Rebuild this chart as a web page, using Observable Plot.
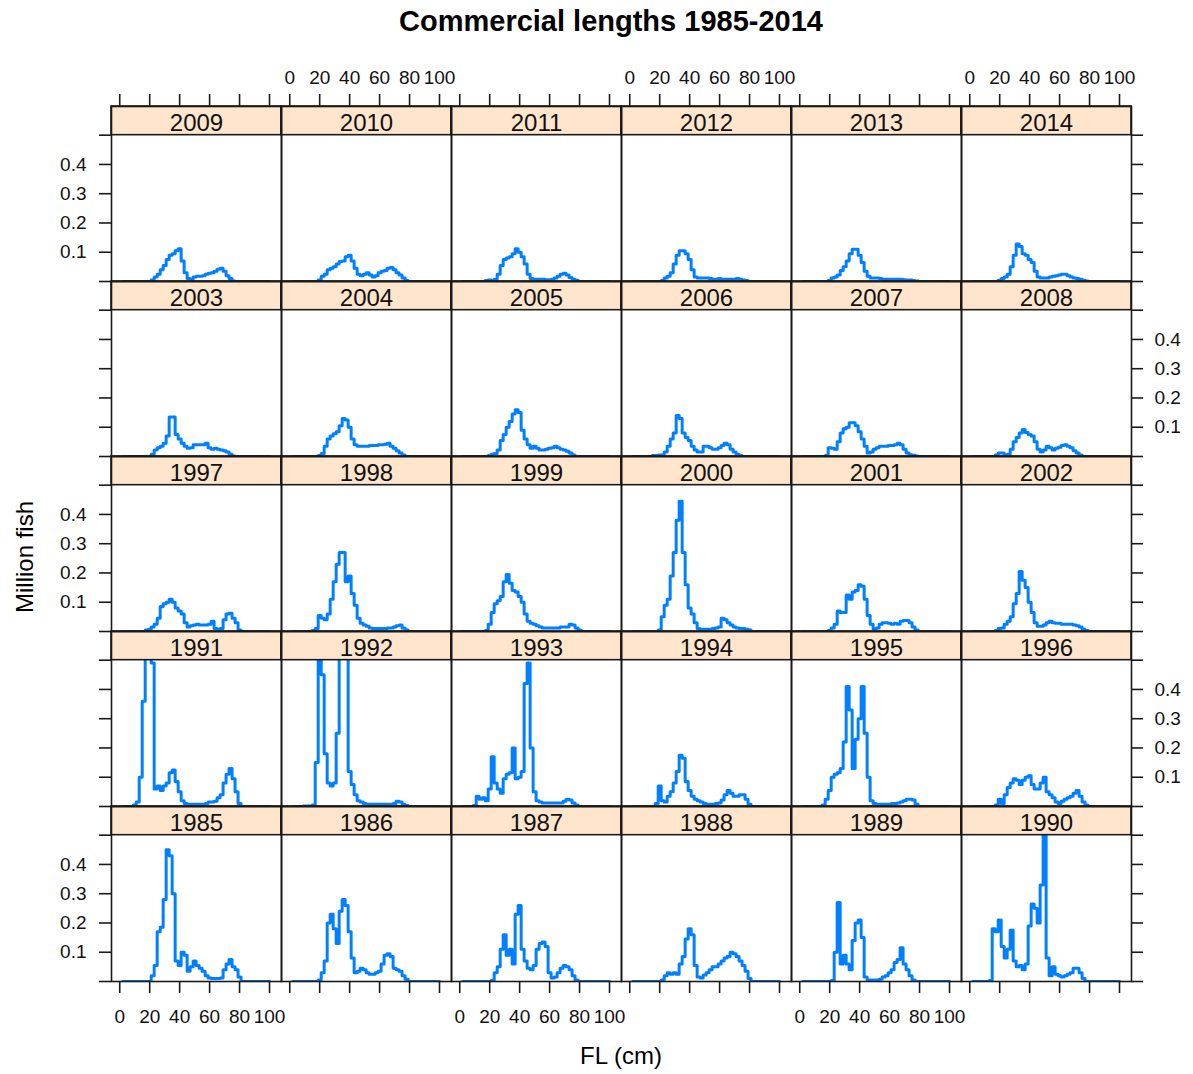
<!DOCTYPE html>
<html>
<head>
<meta charset="utf-8">
<script src="https://cdn.jsdelivr.net/npm/d3@7"></script>
<script src="https://cdn.jsdelivr.net/npm/@observablehq/plot@0.6"></script>
<style>
  body { margin: 0; background: #fff; font-family: "Liberation Sans", Arial, sans-serif; }
  #wrap { position: relative; width: 1193px; height: 1074px; overflow: hidden; background: #fff; }
  #wrap svg { position: absolute; left: 0; top: 0; }
  #title { position: absolute; left: 0; top: 7px; width: 1222px; text-align: center; font-weight: bold; font-size: 29px; line-height: 29px; color: #000; }
  #xlab { position: absolute; left: 0; top: 1044px; width: 1242px; text-align: center; font-size: 24px; line-height: 24px; color: #000; }
  #ylab { position: absolute; left: -75px; top: 545px; width: 200px; text-align: center; font-size: 24px; line-height: 24px; transform: rotate(-90deg); color: #000; }
</style>
</head>
<body>
<div id="wrap">
  <div id="title">Commercial lengths 1985-2014</div>
  <div id="xlab">FL (cm)</div>
  <div id="ylab">Million fish</div>
</div>
<script>
// ---- data (values in thousand fish per 2-cm length bin) ----
const years = [1985,1986,1987,1988,1989,1990,1991,1992,1993,1994,1995,1996,1997,1998,1999,2000,2001,2002,2003,2004,2005,2006,2007,2008,2009,2010,2011,2012,2013,2014];
const lengthBins = [2,4,6,8,10,12,14,16,18,20,22,24,26,28,30,32,34,36,38,40,42,44,46,48,50,52,54,56,58,60,62,64,66,68,70,72,74,76,78,80,82,84,86,88,90,92,94,96,98,100];
const xTicks = [0,20,40,60,80,100];
const yTicks = [0,0.1,0.2,0.3,0.4,0.5];
const yTickLabels = [0.1,0.2,0.3,0.4];

const v1985 = [0,0,0,0,0,0,0,0,0,0, 20,55,170,185,280,450,430,300,70,55, 100,90,35,50,70,55,45,35,20,12, 10,10,10,12,40,60,75,50,40,15, 0,0,0,0,0,0,0,0,0,0];
const v1986 = [0,0,0,0,0,0,0,0,0, 5,30,70,200,230,180,130,240,280,260, 170,80,30,35,45,40,30,25,25,30, 35,60,90,95,85,45,40,35,20,8, 0,0,0,0,0,0,0,0,0,0,0];
const v1987 = [0,0,0,0,0,0,0,0,0,0, 3,30,50,110,160,90,110,60,230,260, 110,70,45,40,55,110,130,135,120,30, 12,15,30,45,55,50,40,20,5, 0,0,0,0,0,0,0,0,0,0,0];
const v1988 = [0,0,0,0,0,0,0,0,0,0, 5,20,30,25,30,25,60,85,145,180, 160,55,15,12,22,30,40,50,50,60, 70,80,85,100,95,85,70,55,35,10, 0,0,0,0,0,0,0,0,0,0];
const v1989 = [0,0,0,0,0,0,0,0,0,0, 3,100,270,60,90,60,40,140,200,210, 150,15,5,5,5,5,8,15,20,30, 40,65,75,115,60,40,20,5, 0,0,0,0,0,0,0,0,0,0,0,0];
const v1990 = [0,0,0,0,0,0, 3,180,170,210,120,80,110,175,70,50, 55,40,60,190,265,250,200,330,600,80, 20,50,25,20,15,20,25,30,45,45, 30,10, 0,0,0,0,0,0,0,0,0,0,0,0];
const v1991 = [0,0,0,0, 5,15,100,360,700,700,490,60,70,55, 70,80,115,125,85,50,20,10,8,8, 8,8,8,8,10,15,15,18,30,40, 80,110,130,95,50,10, 0,0,0,0,0,0,0,0,0,0];
const v1992 = [0,0,0,0, 2,2,2,5,150,700,450,180,80,70, 80,250,700,700,700,120,75,40,20,15, 10,8,8,8,8,8,8,8,8,8, 10,18,15,8,3, 0,0,0,0,0,0,0,0,0,0,0];
const v1993 = [0,0,0,0, 3,35,25,30,20,60,170,80,60,45, 95,110,115,200,95,100,120,420,490,200, 50,20,15,12,12,12,12,12,12,12, 18,25,22,12,5, 0,0,0,0,0,0,0,0,0,0,0];
const v1994 = [0,0,0,0,0,0,0,0, 10,70,20,15,35,50,80,120,175,165, 85,55,35,25,20,15,10,8,8,8, 10,12,22,40,55,45,35,35,40,40, 25,8, 0,0,0,0,0,0,0,0,0,0];
const v1995 = [0,0,0,0,0,0,0, 5,25,55,100,110,115,130,220,410,330, 130,230,300,410,250,100,20,10,8,8, 8,8,8,10,10,12,15,20,25,25, 22,8, 0,0,0,0,0,0,0,0,0,0,0];
const v1996 = [0,0,0,0,0,0,0,0, 5,25,10,40,65,80,95,90,75,90, 100,105,75,60,60,80,100,50,40,30, 15,10,18,25,30,35,45,55,35,15, 5, 0,0,0,0,0,0,0,0,0,0,0];
const v1997 = [0,0,0,0,0,0,0,0, 5,8,15,25,45,85,95,100,110,100, 80,70,60,30,15,20,22,25,22,22, 22,25,35,10,8,10,40,60,62,45, 30,5, 0,0,0,0,0,0,0,0,0,0];
const v1998 = [0,0,0,0,0,0,0, 3,10,55,45,40,60,110,170,230,270, 270,170,190,130,90,45,28,22,18,12, 10,10,10,10,10,12,12,15,20,22, 12,5, 0,0,0,0,0,0,0,0,0,0,0];
const v1999 = [0,0,0,0,0,0,0,0, 3,25,65,95,105,120,170,195,165,140, 135,120,100,60,35,28,25,20,15,12, 12,12,12,12,12,15,15,15,25,22, 12,5, 0,0,0,0,0,0,0,0,0,0];
const v2000 = [0,0,0,0,0,0,0,0,0, 5,50,90,110,190,270,380,445,270,160, 80,60,30,10,8,8,8,8,10,12, 15,45,40,30,22,15,12,10,10,8, 5, 0,0,0,0,0,0,0,0,0,0];
const v2001 = [0,0,0,0,0,0,0,0,0, 3,12,25,70,65,65,125,110,135,140, 160,155,110,55,25,8,12,25,30,30, 28,25,28,25,35,38,38,30,15,5, 0,0,0,0,0,0,0,0,0,0,0];
const v2002 = [0,0,0,0,0,0,0,0, 3,10,12,25,35,50,95,130,205,175, 150,100,65,30,18,18,22,30,35,30, 28,28,25,25,25,25,22,20,15,8, 3, 0,0,0,0,0,0,0,0,0,0,0];
const v2003 = [0,0,0,0,0,0,0,0,0,0, 8,22,30,35,45,70,135,135,75,60, 45,35,28,30,40,40,40,40,45,30, 25,28,25,22,20,15,8,2, 0,0,0,0,0,0,0,0,0,0,0,0];
const v2004 = [0,0,0,0,0,0,0,0,0, 3,10,35,60,70,78,85,105,130,125, 100,60,40,35,35,35,35,38,38,38, 40,40,42,45,35,28,20,12,5, 0,0,0,0,0,0,0,0,0,0,0,0];
const v2005 = [0,0,0,0,0,0,0,0,0, 3,8,10,22,55,75,100,120,145,160, 150,90,60,40,28,35,28,22,22,25, 28,30,35,30,25,22,18,12,5, 0,0,0,0,0,0,0,0,0,0,0,0];
const v2006 = [0,0,0,0,0,0,0, 3,3,5,5,15,35,60,80,140,130, 80,65,55,35,22,15,15,35,35,30, 25,25,30,38,45,40,25,15,8,3, 0,0,0,0,0,0,0,0,0,0,0,0,0];
const v2007 = [0,0,0,0,0,0,0,0, 3,30,28,25,50,80,95,100,115,115, 105,85,60,35,12,15,25,30,35,35, 35,38,38,40,45,40,25,12,6,4, 2, 0,0,0,0,0,0,0,0,0,0,0];
const v2008 = [0,0,0,0,0,0,0,0, 5,12,12,5,8,25,50,65,80,92, 82,75,70,50,25,15,22,35,30,22, 28,32,38,40,35,30,20,12,5, 0,0,0,0,0,0,0,0,0,0,0,0,0];
const v2009 = [0,0,0,0,0,0,0,0,0,0, 5,15,25,40,55,75,90,95,105,112, 70,30,10,8,15,18,18,20,25,28, 30,35,42,45,35,20,10,2,0,0, 0,0,0,0,0,0,0,0,0,0];
const v2010 = [0,0,0,0,0,0,0,0,0, 5,18,25,40,45,50,60,68,70,85, 90,70,45,25,20,25,30,22,15,20, 30,35,38,45,48,40,30,22,12,3, 0,0,0,0,0,0,0,0,0,0,0];
const v2011 = [0,0,0,0,0,0,0,0, 3,5,3,8,25,55,75,80,85,95, 112,100,85,60,25,10,8,8,8,8, 6,6,8,12,18,25,28,22,14,8, 4, 0,0,0,0,0,0,0,0,0,0,0];
const v2012 = [0,0,0,0,0,0,0,0,0,0, 3,12,18,30,60,90,105,105,95,75, 40,15,12,12,12,12,10,8,8,10, 8,8,8,8,8,10,8,5,3, 0,0,0,0,0,0,0,0,0,0,0];
const v2013 = [0,0,0,0,0,0,0,0,0, 3,12,15,22,38,50,70,95,110,110, 90,65,35,18,12,12,12,10,8,8, 8,8,8,8,8,6,5,5,3,2, 0,0,0,0,0,0,0,0,0,0,0];
const v2014 = [0,0,0,0,0,0,0,0,0, 4,10,15,25,50,90,128,120,95,90, 75,65,35,15,12,12,12,15,18,20, 22,25,25,20,15,12,10,8,4,2, 0,0,0,0,0,0,0,0,0,0,0];

const seriesByYear = [v1985,v1986,v1987,v1988,v1989,v1990,v1991,v1992,v1993,v1994,v1995,v1996,v1997,v1998,v1999,v2000,v2001,v2002,v2003,v2004,v2005,v2006,v2007,v2008,v2009,v2010,v2011,v2012,v2013,v2014];

// ---- layout constants (scale domains) ----
const X0 = -5.5, X1 = 108;         // x (cm) domain of each panel
const YMAX = 0.5;                  // panel top (million fish)
const YTOP = 0.598;                // top of strip in y units
const TICK_CM = 8;                 // tick length in x units
const TICK_V = 0.041;              // tick length in y units

// ---- build tables ----
const cells = years.map((yr, i) => ({year: yr, col: i % 6, row: 4 - Math.floor(i / 6)}));
const pts = [];
cells.forEach((c, i) => {
  seriesByYear[i].forEach((v, j) => pts.push({year: c.year, col: c.col, row: c.row, fl: lengthBins[j], n: v / 1000}));
});

const leftTicks = [], rightTicks = [], topTicks = [], bottomTicks = [];
const leftLabels = [], rightLabels = [], topLabels = [], bottomLabels = [];
for (let r = 0; r < 5; r++) {
  yTicks.forEach(v => { leftTicks.push({col: 0, row: r, v}); rightTicks.push({col: 5, row: r, v}); });
  yTickLabels.forEach(v => {
    if (r % 2 === 0) leftLabels.push({col: 0, row: r, v});
    else rightLabels.push({col: 5, row: r, v});
  });
}
for (let c = 0; c < 6; c++) {
  xTicks.forEach(v => { topTicks.push({col: c, row: 0, v}); bottomTicks.push({col: c, row: 4, v}); });
  xTicks.forEach(v => {
    if (c % 2 === 1) topLabels.push({col: c, row: 0, v});
    else bottomLabels.push({col: c, row: 4, v});
  });
}

const ink = "#1a1a1a";
const lw = 1.6;
const fac = {fx: "col", fy: "row"};

const chart = Plot.plot({
  width: 1193,
  height: 1074,
  marginLeft: 110,
  marginRight: 60.6,
  marginTop: 105.7,
  marginBottom: 91.8,
  style: {fontFamily: "'Liberation Sans', Arial, sans-serif", fontSize: "19px", background: "white", overflow: "visible", color: "#000"},
  fx: {domain: [0,1,2,3,4,5], padding: 0, axis: null},
  fy: {domain: [0,1,2,3,4], padding: 0, axis: null},
  x: {domain: [X0, X1], axis: null},
  y: {domain: [0, YTOP], axis: null},
  marks: [
    Plot.line(pts, {...fac, x: "fl", y: "n", z: "year", curve: "step", stroke: "#0080ff", strokeWidth: 3, clip: true}),
    Plot.rect(cells, {...fac, x1: () => X0, x2: () => X1, y1: () => YMAX, y2: () => YTOP, fill: "#ffe5cc", stroke: ink, strokeWidth: lw}),
    Plot.text(cells, {...fac, x: () => (X0 + X1) / 2, y: () => (YMAX + YTOP) / 2, text: d => String(d.year), fontSize: 24, fill: "#111", dy: 2}),
    Plot.frame({stroke: ink, strokeWidth: lw}),
    Plot.ruleY(leftTicks, {...fac, y: "v", x1: () => X0 - TICK_CM, x2: () => X0, stroke: ink, strokeWidth: lw}),
    Plot.ruleY(rightTicks, {...fac, y: "v", x1: () => X1, x2: () => X1 + TICK_CM, stroke: ink, strokeWidth: lw}),
    Plot.ruleX(topTicks, {...fac, x: "v", y1: () => YTOP, y2: () => YTOP + TICK_V, stroke: ink, strokeWidth: lw}),
    Plot.ruleX(bottomTicks, {...fac, x: "v", y1: () => 0, y2: () => -TICK_V, stroke: ink, strokeWidth: lw}),
    Plot.text(leftLabels, {...fac, x: () => X0, y: "v", text: d => d.v.toFixed(1), textAnchor: "end", dx: -25, fontSize: 19, fill: "#111"}),
    Plot.text(rightLabels, {...fac, x: () => X1, y: "v", text: d => d.v.toFixed(1), textAnchor: "start", dx: 23, fontSize: 19, fill: "#111"}),
    Plot.text(topLabels, {...fac, x: "v", y: () => YTOP, text: d => String(d.v), dy: -29, fontSize: 19, fill: "#111"}),
    Plot.text(bottomLabels, {...fac, x: "v", y: () => 0, text: d => String(d.v), dy: 35, fontSize: 19, fill: "#111"})
  ]
});
document.getElementById("wrap").prepend(chart);
</script>
</body>
</html>
